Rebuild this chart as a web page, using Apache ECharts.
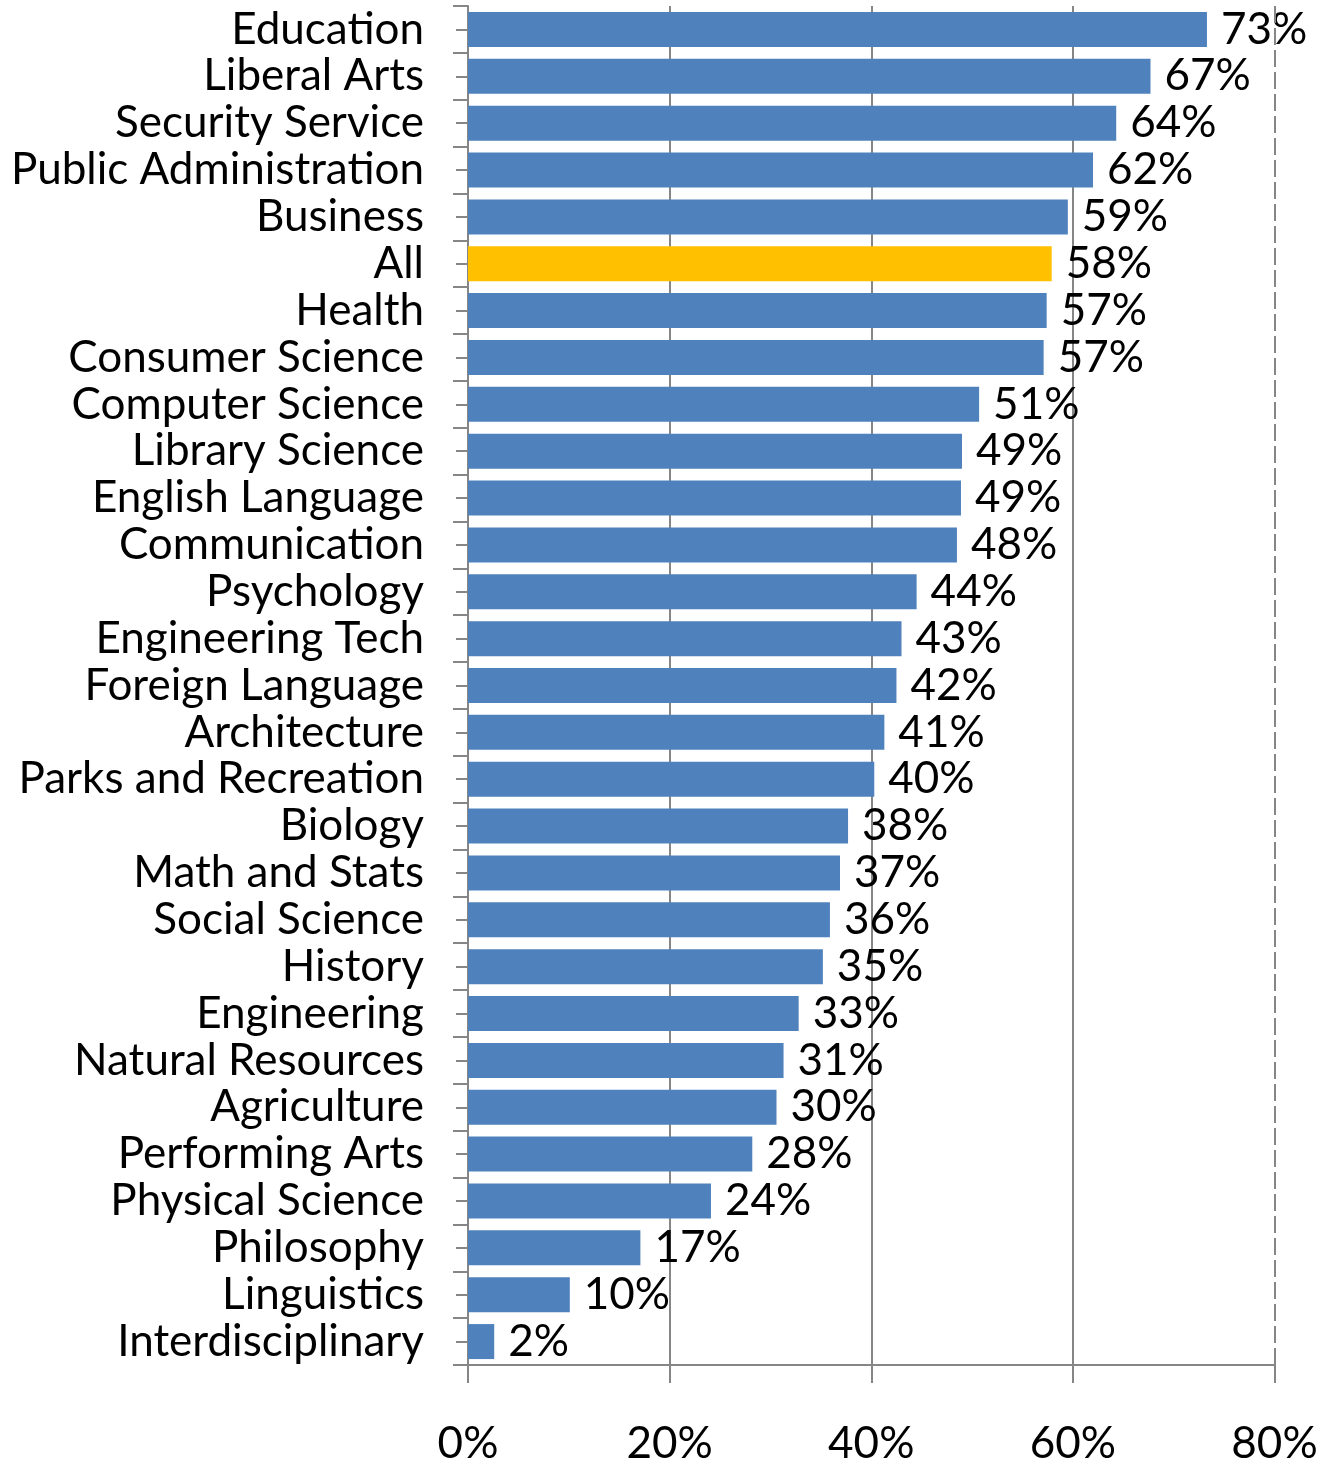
<!DOCTYPE html>
<html>
<head>
<meta charset="utf-8">
<script src="https://cdn.jsdelivr.net/npm/echarts@6/dist/echarts.min.js"></script>
<style>
html,body{margin:0;padding:0;background:#fff;}
#chart{width:1321px;height:1466px;}
</style>
</head>
<body>
<div id="chart"></div>
<script>
var categories = ["Education","Liberal Arts","Security Service","Public Administration","Business","All","Health","Consumer Science","Computer Science","Library Science","English Language","Communication","Psychology","Engineering Tech","Foreign Language","Architecture","Parks and Recreation","Biology","Math and Stats","Social Science","History","Engineering","Natural Resources","Agriculture","Performing Arts","Physical Science","Philosophy","Linguistics","Interdisciplinary"];
var values = [73.3,67.7,64.3,62.0,59.5,57.9,57.4,57.1,50.7,49.0,48.9,48.5,44.5,43.0,42.5,41.3,40.3,37.7,36.9,35.9,35.2,32.8,31.3,30.6,28.2,24.1,17.1,10.1,2.6];
var valueLabels = ["73%","67%","64%","62%","59%","58%","57%","57%","51%","49%","49%","48%","44%","43%","42%","41%","40%","38%","37%","36%","35%","33%","31%","30%","28%","24%","17%","10%","2%"];
var xTicks = [0,20,40,60,80];
var highlightCategory = "All";

var FONT = 'Lato';
var chart = echarts.init(document.getElementById('chart'), null, {renderer:'canvas'});
var gray = '#868686';
chart.setOption({
  animation:false,
  backgroundColor:'#ffffff',
  grid:{left:468, right:46.5, top:6, bottom:96, containLabel:false},
  xAxis:{
    type:'value', min:xTicks[0], max:xTicks[xTicks.length-1], interval:xTicks[1]-xTicks[0],
    axisLine:{show:true, lineStyle:{color:gray, width:2}},
    axisTick:{show:true, length:18, lineStyle:{color:gray, width:2}},
    axisLabel:{margin:57, fontFamily:FONT, fontSize:44, color:'#000', formatter:function(v){return v+'%';}},
    splitLine:{show:true, showMinLine:false, showMaxLine:false, lineStyle:{color:gray, width:2}}
  },
  yAxis:[{
    type:'category', data:categories, inverse:true,
    axisLine:{show:true, lineStyle:{color:gray, width:2}},
    axisTick:{show:true, length:15, alignWithLabel:false, lineStyle:{color:gray, width:2}},
    axisLabel:{interval:0, hideOverlap:false, margin:44, fontFamily:FONT, fontSize:44, color:'#000', padding:[7,0,0,0]},
    splitLine:{show:false}
  },{
    type:'category', data:categories, inverse:true, position:'left',
    axisLine:{show:false},
    axisTick:{show:true, interval:0, length:12, alignWithLabel:true, lineStyle:{color:gray, width:2}},
    axisLabel:{show:false},
    splitLine:{show:false}
  }],
  series:[{
    type:'bar', yAxisIndex:0, barWidth:35,
    data:values.map(function(v,i){
      return {value:v, itemStyle:{color: categories[i]===highlightCategory ? '#FFC000' : '#4F81BD'}};
    }),
    label:{show:true, position:'right', distance:14, fontFamily:FONT, fontSize:44, color:'#000', padding:[7,0,0,0],
      formatter:function(p){return valueLabels[p.dataIndex];}},
    markLine:{silent:true, symbol:'none', label:{show:false},
      lineStyle:{color:gray, width:2, type:[17,5]},
      data:[{xAxis:xTicks[xTicks.length-1]}]}
  }]
});
</script>
</body>
</html>
